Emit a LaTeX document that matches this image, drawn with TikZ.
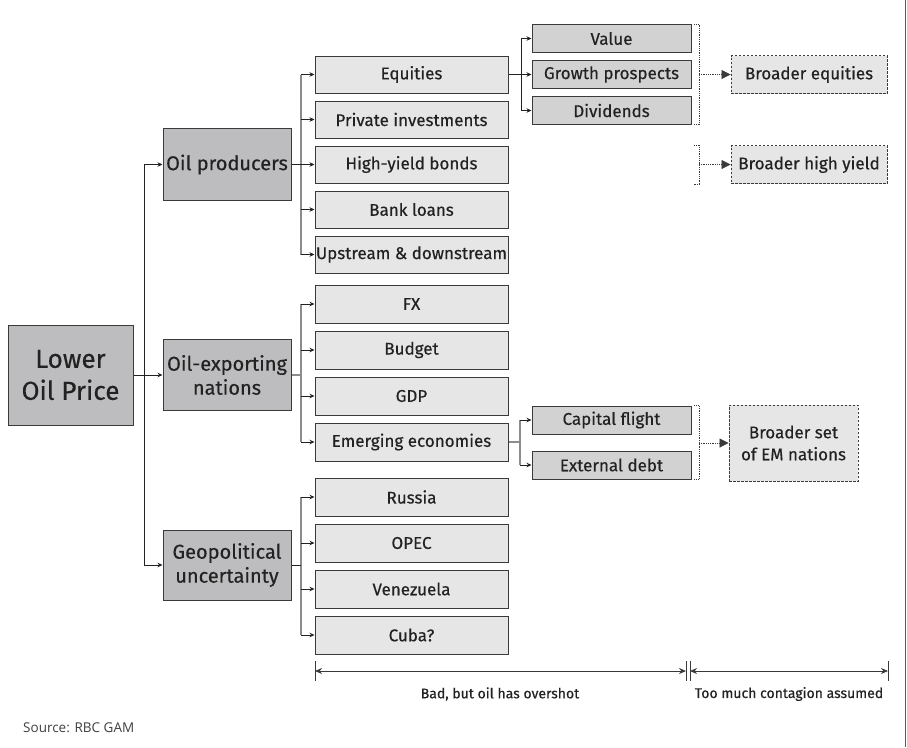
\documentclass[tikz,border=0pt]{standalone}
\usepackage{fontspec}
\setmainfont{Fira Sans}[FakeBold=0.4]
\newfontfamily\srcfont{Open Sans}
\usetikzlibrary{arrows.meta,calc}
\definecolor{lvone}{HTML}{BDBDBF}
\definecolor{lvtwo}{HTML}{E6E6E7}
\definecolor{lvthree}{HTML}{D2D2D3}
\definecolor{edge}{HTML}{3A3A3A}
\definecolor{txt}{HTML}{222222}
\definecolor{branch}{HTML}{8C8C8C}
\begin{document}
\begin{tikzpicture}[x=1pt,y=-1pt,
 box/.style={draw=edge,line width=1pt,text=txt,inner sep=0pt,align=center},
 one/.style={box,fill=lvone,minimum width=128pt,minimum height=71pt,font=\fontsize{20}{24}\selectfont},
 two/.style={box,fill=lvtwo,minimum width=193pt,minimum height=37pt,font=\fontsize{17}{20}\selectfont},
 three/.style={box,fill=lvthree,minimum width=159pt,minimum height=27.5pt,font=\fontsize{17}{20}\selectfont},
 wide/.style={box,dash pattern=on 2.5pt off 1.5pt,line width=0.9pt,fill=lvtwo,minimum width=156pt,minimum height=38pt,font=\fontsize{17}{22}\selectfont},
 arr/.style={-{Stealth[length=5pt,width=4.5pt]},draw=txt,line width=0.8pt},
 plain/.style={draw=txt,line width=0.8pt},
 trunk/.style={draw=branch,line width=1.6pt},
 brk/.style={draw=edge,densely dotted,line width=0.8pt},
 darr/.style={brk,-{Triangle[length=9pt,width=9pt]}},
 tick/.style={draw=edge,line width=0.7pt},
 dim/.style={draw=edge,line width=0.8pt,{Stealth[length=7pt,width=6pt]}-{Stealth[length=7pt,width=6pt]}},
 lab/.style={text=txt,font=\fontsize{14}{16}\selectfont,inner sep=0pt},
]
\fill[white] (0,0) rectangle (907,747);
\useasboundingbox (0,0) rectangle (907,747);

% level 1
\node[one,minimum width=125pt,minimum height=100pt,font=\fontsize{26}{32}\selectfont] (lop) at (70.5,375) {Lower\\Oil Price};
\node[one,minimum height=72pt] (op) at (227,164.5) {Oil producers};
\node[one] (oe) at (227,375) {Oil-exporting\\nations};
\node[one,minimum height=70pt] (geo) at (227,565) {Geopolitical\\uncertainty};

% level 2
\node[two] (eq) at (411.5,74.5) {Equities};
\node[two] (pi) at (411.5,119.5) {Private investments};
\node[two] (hy) at (411.5,164.5) {High-yield bonds};
\node[two] (bl) at (411.5,209.5) {Bank loans};
\node[two] (ud) at (411.5,254.5) {Upstream \& downstream};
\node[two,minimum height=38pt] (fx) at (411.5,304) {FX};
\node[two,minimum height=38pt] (bu) at (411.5,350) {Budget};
\node[two,minimum height=38pt] (gdp) at (411.5,396) {GDP};
\node[two,minimum height=38pt] (em) at (411.5,442) {Emerging economies};
\node[two,minimum height=38pt] (ru) at (411.5,497) {Russia};
\node[two,minimum height=38pt] (opec) at (411.5,543) {OPEC};
\node[two,minimum height=38pt] (ven) at (411.5,589) {Venezuela};
\node[two,minimum height=38pt] (cuba) at (411.5,635) {Cuba?};

% level 3
\node[three] (val) at (611.5,38.5) {Value};
\node[three] (gro) at (611.5,74.5) {Growth prospects};
\node[three] (div) at (611.5,110.5) {Dividends};
\node[three,minimum height=28pt] (cf) at (611.5,420) {Capital flight};
\node[three,minimum height=28pt] (ed) at (611.5,465) {External debt};

% broader
\node[wide] (beq) at (809,74.5) {Broader equities};
\node[wide] (bhy) at (809,164.5) {Broader high yield};
\node[wide,minimum width=129pt,minimum height=76pt] (bset) at (793.5,443) {Broader set\\of EM nations};

% guide coordinates
\coordinate (tx) at (144,0);
\coordinate (gx) at (301,0);
\coordinate (bx) at (521,0);
\coordinate (ex) at (520,0);
\coordinate (kx) at (699,0);

% main trunk
\draw[arr] (lop.east) -- (oe.west);
\draw[plain] (tx|-op.west) -- (tx|-geo.west);
\draw[arr] (tx|-op.west) -- (op.west);
\draw[arr] (tx|-geo.west) -- (geo.west);

% group 1
\draw[trunk] (gx|-eq.west) -- (gx|-ud.west);
\foreach \n in {eq,pi,bl,ud} \draw[arr] (gx|-\n.west) -- (\n.west);
\draw[arr] (op.east) -- (hy.west);

% group 2
\draw[trunk] (gx|-fx.west) -- (gx|-em.west);
\draw[trunk,line width=1.2pt] (oe.east) -- (gx|-oe.east);
\foreach \n in {fx,bu,gdp,em} \draw[arr] (gx|-\n.west) -- (\n.west);

% group 3
\draw[trunk] (gx|-ru.west) -- (gx|-cuba.west);
\draw[plain] (geo.east) -- (gx|-geo.east);
\foreach \n in {ru,opec,ven,cuba} \draw[arr] (gx|-\n.west) -- (\n.west);

% equities branch
\draw[arr] (eq.east) -- (gro.west);
\draw[plain] (bx|-val.west) -- (bx|-div.west);
\draw[arr] (bx|-val.west) -- (val.west);
\draw[arr] (bx|-div.west) -- (div.west);

% EM branch
\draw[trunk,line width=1.2pt] (em.east) -- (ex|-em.east);
\draw[trunk,line width=1.2pt] (ex|-cf.west) -- (ex|-ed.west);
\draw[arr] (ex|-cf.west) -- (cf.west);
\draw[arr] (ex|-ed.west) -- (ed.west);

% brackets
\draw[brk] ($(kx|-val.north)+(-5,0)$) -- (kx|-val.north) -- (kx|-div.south) -- ++(-5,0);
\draw[brk] ($(kx|-bhy.north)+(-5,0)$) -- (kx|-bhy.north) -- (kx|-bhy.south) -- ++(-5,0);
\draw[brk] ($(kx|-cf.north)+(-5,0)$) -- (kx|-cf.north) -- (kx|-ed.south) -- ++(-5,0);
\draw[darr] (kx|-beq.west) -- (beq.west);
\draw[darr] (kx|-bhy.west) -- (bhy.west);
\draw[darr] (kx|-bset.west) -- (bset.west);

% dimension lines
\coordinate (d0) at (315,671);
\coordinate (d1) at (686,671);
\coordinate (d2) at (690,671);
\coordinate (d3) at (888,671);
\foreach \d in {d0,d1,d2,d3} \draw[tick] ($(\d)+(0,-10)$) -- ($(\d)+(0,10)$);
\draw[dim] (d0) -- (d1);
\draw[dim] (d2) -- (d3);
\node[lab] (l1) at (500,694) {Bad, but oil has overshot};
\node[lab] (l2) at (789,694) {Too much contagion assumed};

% source
\node[anchor=west,inner sep=0pt,font=\srcfont\fontsize{13.5}{16}\selectfont,text=black!75] (src) at (23,728) {Source: RBC GAM};

% frame line
\draw[draw=black!65,line width=1pt] (905.5,0) -- (905.5,747);
\end{tikzpicture}
\end{document}
